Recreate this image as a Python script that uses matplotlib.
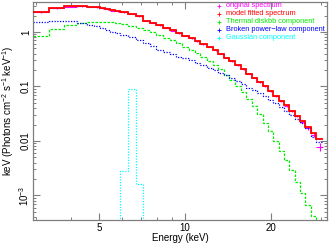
#!/usr/bin/env python3
"""XSPEC-style unfolded spectrum with model components."""

import matplotlib
matplotlib.use("Agg")
import matplotlib.pyplot as plt
import numpy as np
from matplotlib.ticker import FixedLocator, NullFormatter

plt.rcParams["font.family"] = ["Liberation Sans", "DejaVu Sans"]
plt.rcParams["mathtext.fontset"] = "custom"
plt.rcParams["mathtext.rm"] = "Liberation Sans"

# energy bin edges (keV)
edges = [2.95, 3.35, 3.77, 4.19, 4.54, 4.8, 5.05, 5.25, 5.47, 5.7, 5.93,
         6.32, 6.74, 7.13, 7.54, 7.95, 8.4, 8.85, 9.3, 9.8, 10.3, 10.8,
         11.3, 11.9, 12.5, 13.1, 13.7, 14.3, 15.0, 15.7, 16.4, 17.1, 17.9,
         18.7, 19.5, 20.4, 21.3, 22.2, 23.2, 24.2, 25.3, 26.4, 27.6, 28.8, 30.4]

# E*F(E) values per bin
data = [2.30, 2.72, 2.93, 2.97, 2.90, 2.83, 2.70, 2.60, 2.47, 2.40, 2.30,
        2.14, 1.93, 1.60, 1.47, 1.32, 1.19, 1.06, 0.95, 0.85, 0.76, 0.68,
        0.60, 0.53, 0.46, 0.40, 0.34, 0.29, 0.245, 0.205, 0.17, 0.145, 0.12,
        0.10, 0.082, 0.066, 0.054, 0.044, 0.036, 0.029, 0.022, 0.017, 0.013, 0.0078]
data_err = [0.04, 0.04, 0.04, 0.04, 0.04, 0.04, 0.04, 0.04, 0.04, 0.04, 0.04,
            0.04, 0.03, 0.03, 0.03, 0.03, 0.02, 0.02, 0.02, 0.02, 0.02, 0.015,
            0.012, 0.01, 0.01, 0.008, 0.007, 0.006, 0.005, 0.005, 0.004, 0.004, 0.003,
            0.003, 0.0025, 0.002, 0.002, 0.0015, 0.0015, 0.0012, 0.001, 0.001, 0.001, 0.0012]
model = [2.33, 2.76, 2.96, 2.96, 2.92, 2.85, 2.72, 2.62, 2.50, 2.42, 2.33,
         2.16, 1.95, 1.62, 1.48, 1.33, 1.20, 1.07, 0.95, 0.85, 0.76, 0.68,
         0.61, 0.53, 0.46, 0.40, 0.34, 0.29, 0.245, 0.205, 0.17, 0.145, 0.12,
         0.10, 0.082, 0.067, 0.055, 0.045, 0.036, 0.029, 0.023, 0.018, 0.014, 0.011]
diskbb = [0.85, 1.13, 1.35, 1.45, 1.50, 1.52, 1.52, 1.52, 1.50, 1.46, 1.38,
          1.28, 1.18, 1.08, 0.98, 0.88, 0.79, 0.71, 0.62, 0.54, 0.47, 0.41,
          0.35, 0.29, 0.245, 0.205, 0.165, 0.13, 0.10, 0.078, 0.058, 0.043, 0.031,
          0.021, 0.015, 0.0098, 0.0066, 0.0044, 0.0029, 0.0018, 0.0011, 0.00068, 0.00042, 0.00025]
bknpower = [1.52, 1.59, 1.59, 1.46, 1.34, 1.30, 1.18, 1.10, 1.00, 0.95, 0.88,
            0.80, 0.72, 0.63, 0.55, 0.47, 0.43, 0.39, 0.35, 0.33, 0.30, 0.27,
            0.25, 0.22, 0.20, 0.18, 0.16, 0.145, 0.125, 0.11, 0.095, 0.085, 0.076,
            0.066, 0.057, 0.049, 0.042, 0.036, 0.030, 0.025, 0.021, 0.017, 0.012, 0.0095]
gauss_edges = [5.93, 6.32, 6.74, 7.13]
gauss = [0.0028, 0.09, 0.0016]

legend_labels = ["original spectrum", "model fitted spectrum", "Thermal diskbb component",
                 "Broken power\u2212law component", "Gaussian component"]
legend_colors = ["#ff00ff", "#ff0000", "#00ee00", "#0000ff", "#00ffff"]

e = np.array(edges)
centers = np.sqrt(e[:-1] * e[1:])
xerr = [centers - e[:-1], e[1:] - centers]

fig = plt.figure(figsize=(3.33, 2.45), dpi=100)
ax = fig.add_axes([33 / 333, 25 / 245, 294 / 333, 218 / 245])

ax.errorbar(centers, data, xerr=xerr, yerr=data_err, fmt="none",
            ecolor="#ff00ff", elinewidth=0.8, capsize=0, zorder=2)
ax.stairs(model, edges, baseline=None, color="#ff0000", lw=1.3, zorder=3)
ax.stairs(diskbb, edges, baseline=None, color="#00ee00", lw=0.9,
          linestyle=(0, (2.0, 1.2)), zorder=2)
ax.stairs(bknpower, edges, baseline=None, color="#0000ff", lw=0.9,
          linestyle=(0, (1.0, 1.2)), zorder=2)
ax.stairs(gauss, gauss_edges, baseline=1e-6, color="#00ffff", lw=0.9,
          linestyle=(0, (1.0, 1.2)), zorder=2)

ax.set_xscale("log")
ax.set_yscale("log")
ax.set_xlim(2.94, 31.4)
ax.set_ylim(3.55e-4, 3.55)

ax.xaxis.set_major_locator(FixedLocator([5, 10, 20]))
ax.xaxis.set_minor_locator(FixedLocator([3, 4, 6, 7, 8, 9, 30]))
ax.set_xticklabels(["5", "10", "20"])
ax.xaxis.set_minor_formatter(NullFormatter())

ax.yaxis.set_major_locator(FixedLocator([1e-3, 1e-2, 0.1, 1]))
ax.yaxis.set_minor_locator(FixedLocator(
    [m * 10.0 ** d for d in (-4, -3, -2, -1, 0) for m in range(2, 10)]))
ax.set_yticklabels([r"$10^{-3}$", "0.01", "0.1", "1"], rotation=90, va="center")
ax.yaxis.set_minor_formatter(NullFormatter())

spine_c = "#7f7f7f"
for s in ax.spines.values():
    s.set_color(spine_c)
    s.set_linewidth(0.9)
ax.tick_params(which="both", direction="in", top=True, right=True,
               color=spine_c, labelsize=7, labelcolor="black")
ax.tick_params(which="major", length=5, width=0.8)
ax.tick_params(axis="x", which="major", pad=2)
ax.tick_params(axis="y", which="major", pad=1.5)
ax.tick_params(which="minor", length=2.5, width=0.7)

ax.set_xlabel("Energy (keV)", fontsize=7, labelpad=0.5)
ax.set_ylabel(r"keV (Photons cm$^{-2}$ s$^{-1}$ keV$^{-1}$)", fontsize=7, labelpad=0.5)

# legend drawn as text rows at upper right
for i, (lab, col) in enumerate(zip(legend_labels, legend_colors)):
    yy = 0.982 - i * 0.0367
    ax.plot([0.633], [yy], marker="+", ms=3, mew=0.6, color=col,
            transform=ax.transAxes, clip_on=False)
    ax.text(0.656, yy, lab, color=col, fontsize=5.3, va="center", ha="left",
            transform=ax.transAxes, clip_on=False)

fig.savefig("out.png", dpi=100)
